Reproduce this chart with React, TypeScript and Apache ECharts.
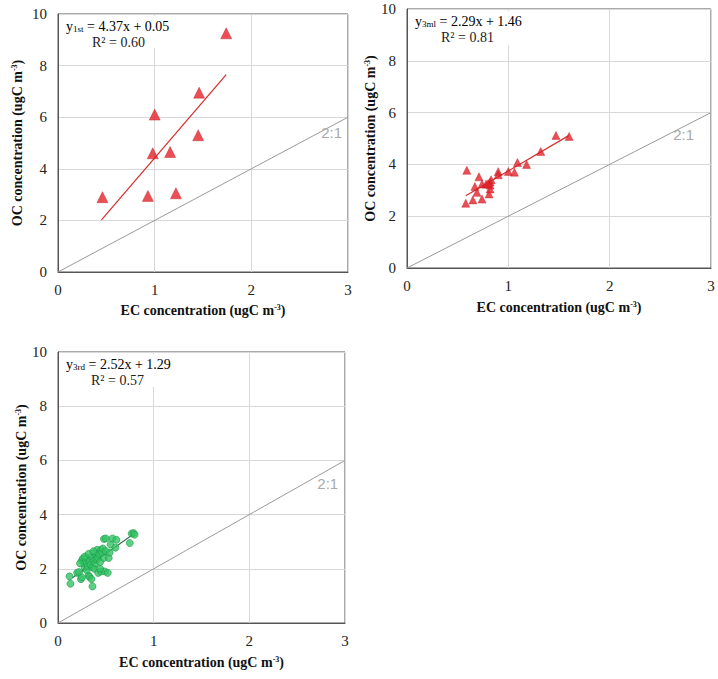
import React, { useEffect, useRef } from "react";
import * as echarts from "echarts";

const FONT = '"Liberation Serif", "DejaVu Serif", "Times New Roman", serif';

// Panel 1 (1st) – triangles
const ec1st = [0.46, 0.93, 1.22, 0.98, 1.16, 1.0, 1.45, 1.46, 1.74];
const oc1st = [2.9, 2.95, 3.05, 4.6, 4.65, 6.1, 5.3, 6.95, 9.25];
const fit1st = [[0.45, 2.02], [1.74, 7.65]];

// Panel 2 (3ml) – triangles
const ec3ml = [0.58, 0.65, 0.59, 0.71, 0.67, 0.74, 0.78, 0.69, 0.81, 0.74, 0.82, 0.82, 0.83, 0.82, 0.9, 0.9, 1.0, 1.06, 1.09, 1.18, 1.32, 1.47, 1.6, 0.8];
const oc3ml = [2.5, 2.63, 3.77, 3.52, 3.15, 3.24, 3.24, 2.92, 2.86, 2.66, 3.05, 3.32, 3.41, 3.2, 3.72, 3.6, 3.73, 3.7, 4.07, 4.0, 4.5, 5.12, 5.08, 3.26];
const fit3ml = [[0.58, 2.79], [1.6, 5.12]];

// Panel 3 (3rd) – circles
const ec3rd = [0.12, 0.13, 0.2, 0.22, 0.24, 0.25, 0.25, 0.26, 0.27, 0.28, 0.29, 0.3, 0.3, 0.31, 0.32, 0.33, 0.33, 0.34, 0.35, 0.35, 0.36, 0.36, 0.37, 0.38, 0.38, 0.39, 0.4, 0.4, 0.41, 0.42, 0.42, 0.43, 0.44, 0.45, 0.45, 0.46, 0.47, 0.48, 0.48, 0.49, 0.5, 0.5, 0.52, 0.53, 0.54, 0.55, 0.57, 0.6, 0.61, 0.75, 0.77, 0.79, 0.8, 0.28, 0.32, 0.44, 0.37, 0.23];
const oc3rd = [1.72, 1.45, 1.85, 1.88, 1.62, 1.68, 2.3, 2.38, 2.2, 2.05, 2.25, 2.4, 1.95, 2.1, 1.75, 2.3, 1.7, 2.15, 2.45, 1.62, 1.35, 2.05, 2.3, 2.6, 2.0, 2.2, 2.5, 2.35, 2.7, 1.85, 2.4, 2.55, 2.25, 2.7, 1.9, 2.6, 2.75, 3.1, 2.4, 1.9, 3.12, 2.65, 1.85, 2.4, 2.6, 2.9, 3.12, 2.78, 3.07, 2.95, 3.3, 3.32, 3.26, 2.45, 2.55, 2.0, 2.65, 2.2];
const fit3rd = [[0.15, 1.67], [0.8, 3.31]];

const ratioLine = [[0, 0], [3, 6]];
const ratioLabel = "2:1";
const xTitle = "{t|EC concentration (ugC m}{s|-3}{t|)}";
const yTitle = "{t|OC concentration (ugC m}{s|-3}{t|)}";

const zip = (a: number[], b: number[]) => a.map((v, i) => [v, b[i]]);

const titleRich = {
  t: { fontFamily: FONT, fontSize: 14, fontWeight: "bold", color: "#111" },
  s: { fontFamily: FONT, fontSize: 8, fontWeight: "bold", color: "#111", verticalAlign: "top", padding: [0, 0, 6, 0] },
};

const eqRich = {
  n: { fontFamily: FONT, fontSize: 14, color: "#222" },
  s: { fontFamily: FONT, fontSize: 9, color: "#222", verticalAlign: "bottom" },
};

export default function App() {
  const ref = useRef<HTMLDivElement>(null);
  useEffect(() => {
    if (!ref.current) return;
    const chart = echarts.init(ref.current, undefined, { renderer: "svg" });
    const grids = [
      { left: 58, top: 14, width: 290, height: 258, xGap: 31, yGap: 34 },
      { left: 407, top: 9, width: 304, height: 259, xGap: 32, yGap: 29 },
      { left: 58, top: 352, width: 287, height: 271, xGap: 32, yGap: 26 },
    ];
    const xAxis = grids.map((g, i) => ({
      type: "value",
      gridIndex: i,
      min: 0,
      max: 3,
      interval: 1,
      name: xTitle,
      nameLocation: "middle",
      nameGap: g.xGap,
      nameTextStyle: { rich: titleRich },
      axisLine: { show: true, lineStyle: { color: "#555", width: 1 } },
      axisTick: { show: false },
      axisLabel: { fontFamily: FONT, fontSize: 15, color: "#222", margin: 10 },
      splitLine: { show: true, lineStyle: { color: "#d8d8d8", width: 1 } },
    }));
    const yAxis = grids.map((g, i) => ({
      type: "value",
      gridIndex: i,
      min: 0,
      max: 10,
      interval: 2,
      name: yTitle,
      nameLocation: "middle",
      nameRotate: 90,
      nameGap: g.yGap,
      nameTextStyle: { rich: titleRich },
      axisLine: { show: true, lineStyle: { color: "#555", width: 1 } },
      axisTick: { show: false },
      axisLabel: { fontFamily: FONT, fontSize: 15, color: "#222", margin: 11 },
      splitLine: { show: true, lineStyle: { color: "#d8d8d8", width: 1 } },
    }));

    const ratioSeries = (i: number, coord: number[]) => ({
      type: "line",
      xAxisIndex: i,
      yAxisIndex: i,
      data: ratioLine,
      symbol: "none",
      lineStyle: { color: "#9a9a9a", width: 1 },
      z: 2,
      markPoint: {
        symbol: "circle",
        symbolSize: 0,
        data: [{ coord, value: ratioLabel }],
        label: { show: true, position: "inside", formatter: ratioLabel, color: "#aaa", fontSize: 15, fontFamily: '"Liberation Sans", Arial, sans-serif' },
      },
    });
    const fitSeries = (i: number, d: number[][], color: string) => ({
      type: "line",
      xAxisIndex: i,
      yAxisIndex: i,
      data: d,
      symbol: "none",
      lineStyle: { color, width: 1.2 },
      z: 3,
    });

    const eqBox = (x: number, y: number, w: number, h: number, sub: string, eq: string, r2: string, r2dx: number) => ({
      type: "group",
      x,
      y,
      children: [
        { type: "rect", shape: { x: 0, y: 0, width: w, height: h }, style: { fill: "#fff" }, z: 1 },
        { type: "text", x: 6, y: 3, style: { text: `{n|y}{s|${sub}}{n| = ${eq}}`, rich: eqRich }, z: 2 },
        { type: "text", x: r2dx, y: 19, style: { text: `R² = ${r2}`, fontFamily: FONT, fontSize: 14, fill: "#222" }, z: 2 },
      ],
    });

    chart.setOption({
      animation: false,
      backgroundColor: "#fff",
      textStyle: { fontFamily: FONT },
      grid: grids.map((g) => ({ left: g.left, top: g.top, width: g.width, height: g.height, show: true, borderColor: "#555", borderWidth: 1, backgroundColor: "#fff" })),
      xAxis,
      yAxis,
      graphic: [
        eqBox(60, 16, 130, 32, "1st", "4.37x + 0.05", "0.60", 32),
        eqBox(409, 11, 130, 34, "3ml", "2.29x + 1.46", "0.81", 32),
        eqBox(60, 354, 130, 33, "3rd", "2.52x + 1.29", "0.57", 31),
      ],
      series: [
        ratioSeries(0, [2.83, 5.4]),
        fitSeries(0, fit1st, "#d62a2a"),
        {
          type: "scatter",
          xAxisIndex: 0,
          yAxisIndex: 0,
          data: zip(ec1st, oc1st),
          symbol: "triangle",
          symbolSize: 11,
          itemStyle: { color: "#e4232b", borderColor: "#c01820", borderWidth: 0.5 },
          z: 4,
        },
        ratioSeries(1, [2.73, 5.17]),
        fitSeries(1, fit3ml, "#d62a2a"),
        {
          type: "scatter",
          xAxisIndex: 1,
          yAxisIndex: 1,
          data: zip(ec3ml, oc3ml),
          symbol: "triangle",
          symbolSize: 8,
          itemStyle: { color: "#e4232b", borderColor: "#c01820", borderWidth: 0.5 },
          z: 4,
        },
        ratioSeries(2, [2.82, 5.14]),
        {
          type: "scatter",
          xAxisIndex: 2,
          yAxisIndex: 2,
          data: zip(ec3rd, oc3rd),
          symbol: "circle",
          symbolSize: 7,
          itemStyle: { color: "#35c466", borderColor: "#1e9a4c", borderWidth: 0.8 },
          z: 4,
        },
        fitSeries(2, fit3rd, "#3d6b4c"),
      ],
    });
    return () => chart.dispose();
  }, []);
  return <div ref={ref} style={{ position: "fixed", left: 0, top: 0, width: 718, height: 679, background: "#fff" }} />;
}
